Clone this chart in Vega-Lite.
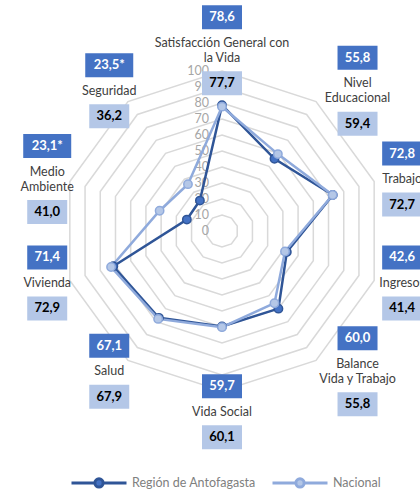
{
  "$schema": "https://vega.github.io/schema/vega-lite/v6.json",
  "width": 420,
  "height": 495,
  "autosize": {"type": "none"},
  "padding": 0,
  "background": "#FFFFFF",
  "config": {"font": "Lato", "view": {"stroke": null}},
  "datasets": {
    "cats": [
      {"cat": 0, "name": "Satisfacción General con\nla Vida", "serie": "Región de Antofagasta", "value": 78.6, "label": "78,6"},
      {"cat": 1, "name": "Nivel\nEducacional", "serie": "Región de Antofagasta", "value": 55.8, "label": "55,8"},
      {"cat": 2, "name": "Trabajo", "serie": "Región de Antofagasta", "value": 72.8, "label": "72,8"},
      {"cat": 3, "name": "Ingresos", "serie": "Región de Antofagasta", "value": 42.6, "label": "42,6"},
      {"cat": 4, "name": "Balance\nVida y Trabajo", "serie": "Región de Antofagasta", "value": 60.0, "label": "60,0"},
      {"cat": 5, "name": "Vida Social", "serie": "Región de Antofagasta", "value": 59.7, "label": "59,7"},
      {"cat": 6, "name": "Salud", "serie": "Región de Antofagasta", "value": 67.1, "label": "67,1"},
      {"cat": 7, "name": "Vivienda", "serie": "Región de Antofagasta", "value": 71.4, "label": "71,4"},
      {"cat": 8, "name": "Medio\nAmbiente", "serie": "Región de Antofagasta", "value": 23.1, "label": "23,1*"},
      {"cat": 9, "name": "Seguridad", "serie": "Región de Antofagasta", "value": 23.5, "label": "23,5*"},
      {"cat": 0, "name": "Satisfacción General con\nla Vida", "serie": "Nacional", "value": 77.7, "label": "77,7"},
      {"cat": 1, "name": "Nivel\nEducacional", "serie": "Nacional", "value": 59.4, "label": "59,4"},
      {"cat": 2, "name": "Trabajo", "serie": "Nacional", "value": 72.7, "label": "72,7"},
      {"cat": 3, "name": "Ingresos", "serie": "Nacional", "value": 41.4, "label": "41,4"},
      {"cat": 4, "name": "Balance\nVida y Trabajo", "serie": "Nacional", "value": 55.8, "label": "55,8"},
      {"cat": 5, "name": "Vida Social", "serie": "Nacional", "value": 60.1, "label": "60,1"},
      {"cat": 6, "name": "Salud", "serie": "Nacional", "value": 67.9, "label": "67,9"},
      {"cat": 7, "name": "Vivienda", "serie": "Nacional", "value": 72.9, "label": "72,9"},
      {"cat": 8, "name": "Medio\nAmbiente", "serie": "Nacional", "value": 41.0, "label": "41,0"},
      {"cat": 9, "name": "Seguridad", "serie": "Nacional", "value": 36.2, "label": "36,2"}
    ],
    "rings": [
      {"level": 10, "k": [0,1,2,3,4,5,6,7,8,9]},
      {"level": 20, "k": [0,1,2,3,4,5,6,7,8,9]},
      {"level": 30, "k": [0,1,2,3,4,5,6,7,8,9]},
      {"level": 40, "k": [0,1,2,3,4,5,6,7,8,9]},
      {"level": 50, "k": [0,1,2,3,4,5,6,7,8,9]},
      {"level": 60, "k": [0,1,2,3,4,5,6,7,8,9]},
      {"level": 70, "k": [0,1,2,3,4,5,6,7,8,9]},
      {"level": 80, "k": [0,1,2,3,4,5,6,7,8,9]},
      {"level": 90, "k": [0,1,2,3,4,5,6,7,8,9]},
      {"level": 100, "k": [0,1,2,3,4,5,6,7,8,9]}
    ],
    "levels": [
      {"level": 0}, {"level": 10}, {"level": 20}, {"level": 30}, {"level": 40}, {"level": 50},
      {"level": 60}, {"level": 70}, {"level": 80}, {"level": 90}, {"level": 100}
    ]
  },
  "encoding": {
    "x": {"field": "x", "type": "quantitative", "scale": {"domain": [-138.75, 123.75], "nice": false, "zero": false}, "axis": null},
    "y": {"field": "y", "type": "quantitative", "scale": {"domain": [-165, 144.375], "nice": false, "zero": false}, "axis": null}
  },
  "layer": [
    {
      "data": {"name": "rings"},
      "transform": [
        {"flatten": ["k"]},
        {"calculate": "datum.k * PI / 5", "as": "t"},
        {"calculate": "datum.level * sin(datum.t)", "as": "x"},
        {"calculate": "datum.level * cos(datum.t)", "as": "y"}
      ],
      "mark": {"type": "line", "interpolate": "linear-closed", "stroke": "#D9D9D9", "strokeWidth": 1.5},
      "encoding": {"detail": {"field": "level"}, "order": {"field": "k"}}
    },
    {
      "data": {"name": "levels"},
      "transform": [
        {"calculate": "0", "as": "x"},
        {"calculate": "datum.level", "as": "y"}
      ],
      "mark": {"type": "text", "align": "right", "baseline": "middle", "dx": -13, "fill": "#A6A6A6", "fontSize": 12.5},
      "encoding": {"text": {"field": "level"}}
    },
    {
      "data": {"name": "cats"},
      "transform": [
        {"calculate": "datum.cat * PI / 5", "as": "t"},
        {"calculate": "datum.value * sin(datum.t)", "as": "x"},
        {"calculate": "datum.value * cos(datum.t)", "as": "y"}
      ],
      "mark": {"type": "line", "interpolate": "linear-closed", "strokeWidth": 2.5},
      "encoding": {
        "color": {
          "field": "serie", "type": "nominal",
          "scale": {"domain": ["Región de Antofagasta", "Nacional"], "range": ["#2F5597", "#8FAADC"]},
          "legend": {
            "title": null, "orient": "none", "legendX": 70, "legendY": 453.5, "direction": "horizontal",
            "symbolType": "M-1,0H-0.15M0.15,0H1M0.15,0A0.15,0.15,0,1,1,-0.15,0A0.15,0.15,0,1,1,0.15,0",
            "symbolSize": 3025, "symbolStrokeWidth": 3, "labelFontSize": 12.5, "labelColor": "#808080",
            "labelOffset": 4, "columnPadding": 10, "padding": 0,
            "encode": {"symbols": {"update": {"fill": {"scale": "color", "field": "value"}, "fillOpacity": {"value": 1}}}}
          }
        },
        "order": {"field": "cat"}
      }
    },
    {
      "data": {"name": "cats"},
      "transform": [
        {"calculate": "datum.cat * PI / 5", "as": "t"},
        {"calculate": "datum.value * sin(datum.t)", "as": "x"},
        {"calculate": "datum.value * cos(datum.t)", "as": "y"}
      ],
      "mark": {"type": "point", "filled": true, "size": 70, "strokeWidth": 1.5, "opacity": 1},
      "encoding": {
        "fill": {"field": "serie", "type": "nominal", "scale": {"domain": ["Región de Antofagasta", "Nacional"], "range": ["#4472C4", "#B4C7E7"]}, "legend": null},
        "stroke": {"field": "serie", "type": "nominal", "scale": {"domain": ["Región de Antofagasta", "Nacional"], "range": ["#2F5597", "#8FAADC"]}, "legend": null}
      }
    },
    {
      "data": {"name": "cats"},
      "transform": [
        {"filter": "datum.serie == 'Región de Antofagasta'"},
        {"calculate": "datum.cat * PI / 5", "as": "t"},
        {"calculate": "sin(datum.t)", "as": "s"},
        {"calculate": "cos(datum.t)", "as": "c"},
        {"calculate": "datum.s * (114 + datum.c * datum.c * (datum.s > 0 ? 46 : 9))", "as": "x"},
        {"calculate": "datum.c * (105 + 8 * pow(datum.c, 4)) + (indexof(datum.name, '\\n') >= 0 ? 7.5 / 1.6 : 0)", "as": "y"}
      ],
      "mark": {"type": "text", "align": "center", "baseline": "middle", "lineBreak": "\n", "lineHeight": 15, "fontSize": 12.5, "fill": "#404040"},
      "encoding": {"text": {"field": "name"}}
    },
    {
      "data": {"name": "cats"},
      "transform": [
        {"calculate": "datum.cat * PI / 5", "as": "t"},
        {"calculate": "sin(datum.t)", "as": "s"},
        {"calculate": "cos(datum.t)", "as": "c"},
        {"calculate": "datum.s * (114 + datum.c * datum.c * (datum.s > 0 ? 46 : 9))", "as": "lx"},
        {"calculate": "datum.c * (105 + 8 * pow(datum.c, 4))", "as": "ly"},
        {"calculate": "datum.ly + (datum.serie == 'Región de Antofagasta' ? 1 : -1) * (indexof(datum.name, '\\n') >= 0 ? 33 : 25.5) / 1.6", "as": "by"},
        {"calculate": "(length(datum.label) > 4 ? 24 : 20) / 1.6", "as": "hw"},
        {"calculate": "datum.lx - datum.hw", "as": "x"},
        {"calculate": "datum.lx + datum.hw", "as": "x2"},
        {"calculate": "datum.by - 7.5", "as": "y"},
        {"calculate": "datum.by + 7.5", "as": "y2"}
      ],
      "mark": {"type": "rect"},
      "encoding": {
        "x2": {"field": "x2"},
        "y2": {"field": "y2"},
        "fill": {"field": "serie", "type": "nominal", "scale": {"domain": ["Región de Antofagasta", "Nacional"], "range": ["#4472C4", "#B4C7E7"]}, "legend": null}
      }
    },
    {
      "data": {"name": "cats"},
      "transform": [
        {"calculate": "datum.cat * PI / 5", "as": "t"},
        {"calculate": "sin(datum.t)", "as": "s"},
        {"calculate": "cos(datum.t)", "as": "c"},
        {"calculate": "datum.s * (114 + datum.c * datum.c * (datum.s > 0 ? 46 : 9))", "as": "x"},
        {"calculate": "datum.c * (105 + 8 * pow(datum.c, 4))", "as": "ly"},
        {"calculate": "datum.ly + (datum.serie == 'Región de Antofagasta' ? 1 : -1) * (indexof(datum.name, '\\n') >= 0 ? 33 : 25.5) / 1.6", "as": "y"}
      ],
      "mark": {"type": "text", "align": "center", "baseline": "middle", "fontSize": 13, "fontWeight": "bold"},
      "encoding": {
        "text": {"field": "label"},
        "fill": {"condition": {"test": "datum.serie == 'Nacional'", "value": "#000000"}, "value": "#FFFFFF"}
      }
    }
  ]
}
